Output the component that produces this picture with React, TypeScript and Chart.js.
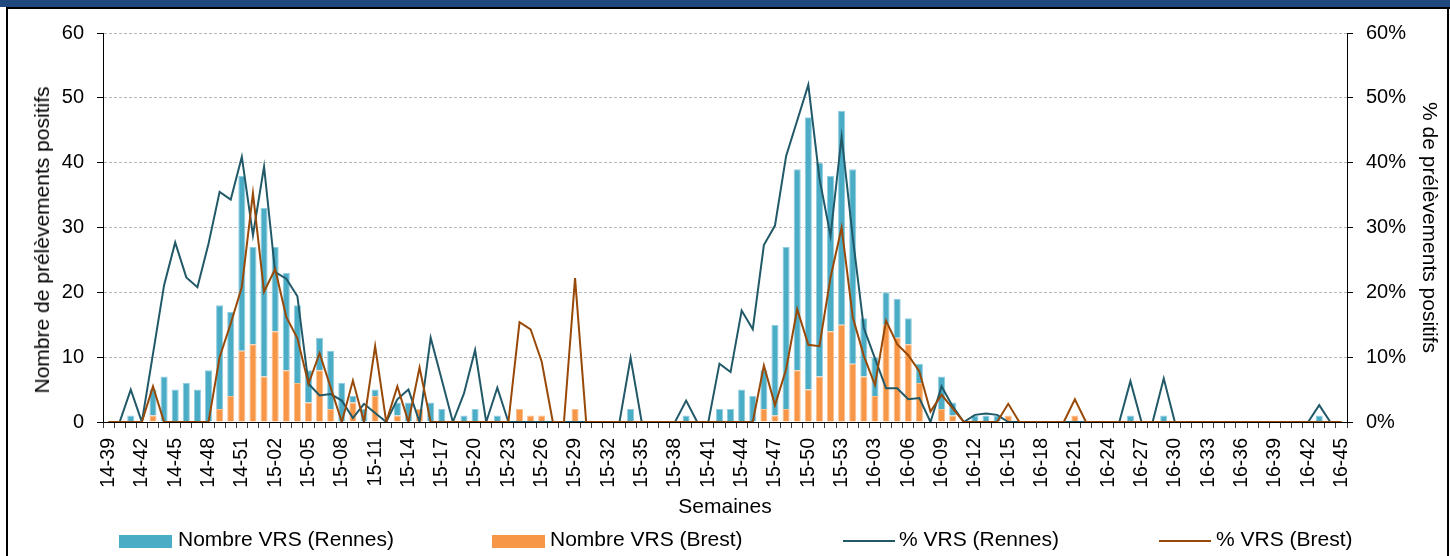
import React, { useEffect, useRef } from "react";
import { Chart, registerables } from "chart.js";

Chart.register(...registerables);

const FONT = "'Liberation Sans', Arial, Helvetica, sans-serif";

const weeks = [
  "14-39", "14-40", "14-41", "14-42", "14-43", "14-44", "14-45", "14-46", "14-47", "14-48",
  "14-49", "14-50", "14-51", "14-52",
  "15-01", "15-02", "15-03", "15-04", "15-05", "15-06", "15-07", "15-08", "15-09", "15-10",
  "15-11", "15-12", "15-13", "15-14", "15-15", "15-16", "15-17", "15-18", "15-19", "15-20",
  "15-21", "15-22", "15-23", "15-24", "15-25", "15-26", "15-27", "15-28", "15-29", "15-30",
  "15-31", "15-32", "15-33", "15-34", "15-35", "15-36", "15-37", "15-38", "15-39", "15-40",
  "15-41", "15-42", "15-43", "15-44", "15-45", "15-46", "15-47", "15-48", "15-49", "15-50",
  "15-51", "15-52", "15-53",
  "16-01", "16-02", "16-03", "16-04", "16-05", "16-06", "16-07", "16-08", "16-09", "16-10",
  "16-11", "16-12", "16-13", "16-14", "16-15", "16-16", "16-17", "16-18", "16-19", "16-20",
  "16-21", "16-22", "16-23", "16-24", "16-25", "16-26", "16-27", "16-28", "16-29", "16-30",
  "16-31", "16-32", "16-33", "16-34", "16-35", "16-36", "16-37", "16-38", "16-39", "16-40",
  "16-41", "16-42", "16-43", "16-44", "16-45",
];

// Nombre VRS (Brest) - bottom part of the stacked columns
const brestCount = [
  0, 0, 0, 0, 1, 0, 0, 0, 0, 0,
  2, 4, 11, 12, 7, 14, 8, 6, 3, 8,
  2, 0, 3, 0, 4, 0, 1, 0, 2, 0,
  0, 0, 0, 0, 0, 0, 0, 2, 1, 1,
  0, 0, 2, 0, 0, 0, 0, 0, 0, 0,
  0, 0, 0, 0, 0, 0, 0, 0, 0, 2,
  1, 2, 8, 5, 7, 14, 15, 9, 7, 4,
  15, 13, 12, 6, 0, 2, 1, 0, 0, 0,
  0, 1, 0, 0, 0, 0, 0, 1, 0, 0,
  0, 0, 0, 0, 0, 0, 0, 0, 0, 0,
  0, 0, 0, 0, 0, 0, 0, 0, 0, 0,
  0, 0,
];

// Nombre VRS (Rennes) - upper part of the stacked columns
const rennesCount = [
  0, 0, 1, 0, 4, 7, 5, 6, 5, 8,
  16, 13, 27, 15, 26, 13, 15, 12, 5, 5,
  9, 6, 1, 2, 1, 0, 2, 3, 0, 3,
  2, 0, 1, 2, 0, 1, 0, 0, 0, 0,
  0, 0, 0, 0, 0, 0, 0, 2, 0, 0,
  0, 0, 1, 0, 0, 2, 2, 5, 4, 6,
  14, 25, 31, 42, 33, 24, 33, 30, 9, 6,
  5, 6, 4, 3, 0, 5, 2, 0, 1, 1,
  1, 0, 0, 0, 0, 0, 0, 0, 0, 0,
  0, 0, 1, 0, 0, 1, 0, 0, 0, 0,
  0, 0, 0, 0, 0, 0, 0, 0, 0, 1,
  0, 0,
];

// % VRS (Rennes)
const rennesPct = [
  0, 0, 5.0, 0, 10.5, 21.1, 27.7, 22.3, 20.8, 27.5,
  35.5, 34.3, 40.9, 28.8, 39.4, 23.1, 22.1, 19.4, 5.9, 4.1,
  4.3, 3.3, 0.6, 2.8, 1.4, 0, 3.5, 5.0, 0, 13.0,
  6.5, 0, 4.4, 11.1, 0, 5.3, 0, 0, 0, 0,
  0, 0, 0, 0, 0, 0, 0, 9.9, 0, 0,
  0, 0, 3.3, 0, 0, 9.0, 7.7, 17.2, 14.3, 27.3,
  30.3, 41.0, 46.5, 52.0, 37.6, 28.7, 44.0, 28.5, 14.5, 9.8,
  5.2, 5.2, 3.5, 3.7, 0, 5.5, 2.4, 0, 1.1, 1.3,
  1.1, 0, 0, 0, 0, 0, 0, 0, 0, 0,
  0, 0, 6.3, 0, 0, 6.7, 0, 0, 0, 0,
  0, 0, 0, 0, 0, 0, 0, 0, 0, 2.6,
  0, 0,
];

// % VRS (Brest)
const brestPct = [
  0, 0, 0, 0, 5.5, 0, 0, 0, 0, 0,
  10.0, 15.2, 20.8, 35.3, 20.1, 23.6, 16.2, 12.9, 5.9, 10.6,
  5.3, 0, 6.4, 0, 11.7, 0, 5.5, 0, 8.4, 0,
  0, 0, 0, 0, 0, 0, 0, 15.4, 14.3, 9.3,
  0, 0, 22.2, 0, 0, 0, 0, 0, 0, 0,
  0, 0, 0, 0, 0, 0, 0, 0, 0, 8.7,
  2.6, 8.1, 17.4, 11.9, 11.7, 22.3, 30.0, 16.2, 10.2, 5.7,
  15.6, 12.0, 10.3, 7.8, 1.6, 4.2, 2.1, 0, 0, 0,
  0, 2.8, 0, 0, 0, 0, 0, 3.5, 0, 0,
  0, 0, 0, 0, 0, 0, 0, 0, 0, 0,
  0, 0, 0, 0, 0, 0, 0, 0, 0, 0,
  0, 0,
];

const BLUE = "#4BACC6";
const BLUE_EDGE = "#8fcde0";
const ORANGE = "#F79646";
const ORANGE_EDGE = "#fbbf8e";
const TEAL = "#215968";
const BROWN = "#984807";

const legendItems = [
  { label: "Nombre VRS (Rennes)", kind: "box", color: BLUE, x: 119, textX: 178 },
  { label: "Nombre VRS (Brest)", kind: "box", color: ORANGE, x: 492, textX: 550 },
  { label: "% VRS (Rennes)", kind: "line", color: TEAL, x: 843, textX: 899 },
  { label: "% VRS (Brest)", kind: "line", color: BROWN, x: 1159, textX: 1216 },
];

export default function App() {
  const canvasRef = useRef<HTMLCanvasElement | null>(null);

  useEffect(() => {
    const canvas = canvasRef.current;
    if (!canvas) return;
    const tickFont = { family: FONT, size: 19.5 };
    const yTickFont = { family: FONT, size: 20 };
    const titleFont = { family: FONT, size: 21 };
    const chart = new Chart(canvas, {
      type: "bar",
      data: {
        labels: weeks,
        datasets: [
          {
            type: "bar",
            label: "Nombre VRS (Brest)",
            data: brestCount,
            backgroundColor: ORANGE,
            borderColor: ORANGE_EDGE,
            borderWidth: 1,
            barPercentage: 0.64,
            categoryPercentage: 1,
            yAxisID: "y",
            stack: "vrs",
            order: 2,
          },
          {
            type: "bar",
            label: "Nombre VRS (Rennes)",
            data: rennesCount,
            backgroundColor: BLUE,
            borderColor: BLUE_EDGE,
            borderWidth: 1,
            barPercentage: 0.64,
            categoryPercentage: 1,
            yAxisID: "y",
            stack: "vrs",
            order: 3,
          },
          {
            type: "line",
            label: "% VRS (Rennes)",
            data: rennesPct,
            yAxisID: "y1",
            borderColor: TEAL,
            backgroundColor: TEAL,
            borderWidth: 2,
            pointRadius: 0,
            tension: 0,
            fill: false,
            order: 1,
          },
          {
            type: "line",
            label: "% VRS (Brest)",
            data: brestPct,
            yAxisID: "y1",
            borderColor: BROWN,
            backgroundColor: BROWN,
            borderWidth: 2,
            pointRadius: 0,
            tension: 0,
            fill: false,
            order: 0,
          },
        ],
      },
      options: {
        responsive: false,
        maintainAspectRatio: false,
        devicePixelRatio: 1,
        animation: false,
        layout: { padding: { left: 9, right: 0, top: 33, bottom: 34 } },
        plugins: {
          legend: { display: false },
          tooltip: { enabled: false },
          title: { display: false },
        },
        scales: {
          x: {
            type: "category",
            offset: true,
            stacked: true,
            grid: {
              display: true,
              offset: true,
              drawOnChartArea: false,
              drawTicks: true,
              tickLength: 6,
              color: "#404040",
              tickColor: "#404040",
            },
            border: { display: true, color: "#000", width: 1 },
            ticks: {
              autoSkip: false,
              minRotation: 90,
              maxRotation: 90,
              padding: 10,
              color: "#000",
              font: tickFont,
              callback: (_v: any, i: number) => (i % 3 === 0 ? weeks[i] : ""),
            },
            title: {
              display: true,
              text: "Semaines",
              color: "#000",
              font: titleFont,
              padding: { top: 0, bottom: 2 },
            },
            afterFit: (s: any) => {
              s.height = 100;
            },
          },
          y: {
            position: "left",
            min: 0,
            max: 60,
            stacked: true,
            ticks: { stepSize: 10, padding: 13, color: "#000", font: yTickFont },
            grid: {
              color: (ctx: any) => (ctx.tick && ctx.tick.value === 0 ? "rgba(0,0,0,0)" : "#b8b8b8"),
              lineWidth: 1,
              tickColor: "#000",
              tickLength: 6,
              drawTicks: true,
            },
            border: { display: true, color: "#000", width: 1, dash: [3, 2] },
            title: { display: false },
            afterFit: (s: any) => {
              s.width = 94;
            },
          },
          y1: {
            position: "right",
            min: 0,
            max: 60,
            stacked: false,
            ticks: {
              stepSize: 10,
              padding: 13,
              color: "#000",
              font: yTickFont,
              callback: (v: any) => v + "%",
            },
            grid: {
              drawOnChartArea: false,
              tickColor: "#000",
              tickLength: 6,
              drawTicks: true,
            },
            border: { display: true, color: "#000", width: 1 },
            title: {
              display: true,
              text: "% de prélèvements positifs",
              color: "#000",
              font: titleFont,
              padding: { top: 9, bottom: 0 },
            },
            afterFit: (s: any) => {
              s.width = 103;
            },
          },
        },
      } as any,
    });
    return () => chart.destroy();
  }, []);

  return (
    <div
      style={{
        position: "absolute",
        left: 0,
        top: 0,
        width: 1450,
        height: 556,
        background: "#fff",
        overflow: "hidden",
        fontFamily: FONT,
      }}
    >
      <canvas
        ref={canvasRef}
        width={1450}
        height={556}
        style={{ position: "absolute", left: 0, top: 0, width: 1450, height: 556 }}
      />
      <div
        style={{
          position: "absolute",
          left: 42,
          top: 240,
          transform: "translate(-50%, -50%) rotate(-90deg)",
          whiteSpace: "nowrap",
          fontSize: 21,
          lineHeight: "24px",
          color: "#000",
        }}
      >
        Nombre de prélèvements positifs
      </div>
      <div style={{ position: "absolute", left: 0, top: 0, width: 1450, height: 7, background: "#1F497D" }} />
      <div style={{ position: "absolute", left: 6, top: 7, width: 1444, height: 2, background: "#000" }} />
      <div style={{ position: "absolute", left: 6, top: 7, width: 2, height: 549, background: "#000" }} />
      <div style={{ position: "absolute", left: 1447, top: 7, width: 2, height: 549, background: "#000" }} />
      {legendItems.map((it) => (
        <React.Fragment key={it.label}>
          {it.kind === "box" ? (
            <div
              style={{
                position: "absolute",
                left: it.x,
                top: 535,
                width: 53,
                height: 13,
                background: it.color,
              }}
            />
          ) : (
            <div
              style={{
                position: "absolute",
                left: it.x,
                top: 540,
                width: 52,
                height: 2,
                background: it.color,
              }}
            />
          )}
          <div
            style={{
              position: "absolute",
              left: it.textX,
              top: 527,
              fontSize: 21,
              lineHeight: "24px",
              color: "#000",
              whiteSpace: "nowrap",
            }}
          >
            {it.label}
          </div>
        </React.Fragment>
      ))}
    </div>
  );
}
